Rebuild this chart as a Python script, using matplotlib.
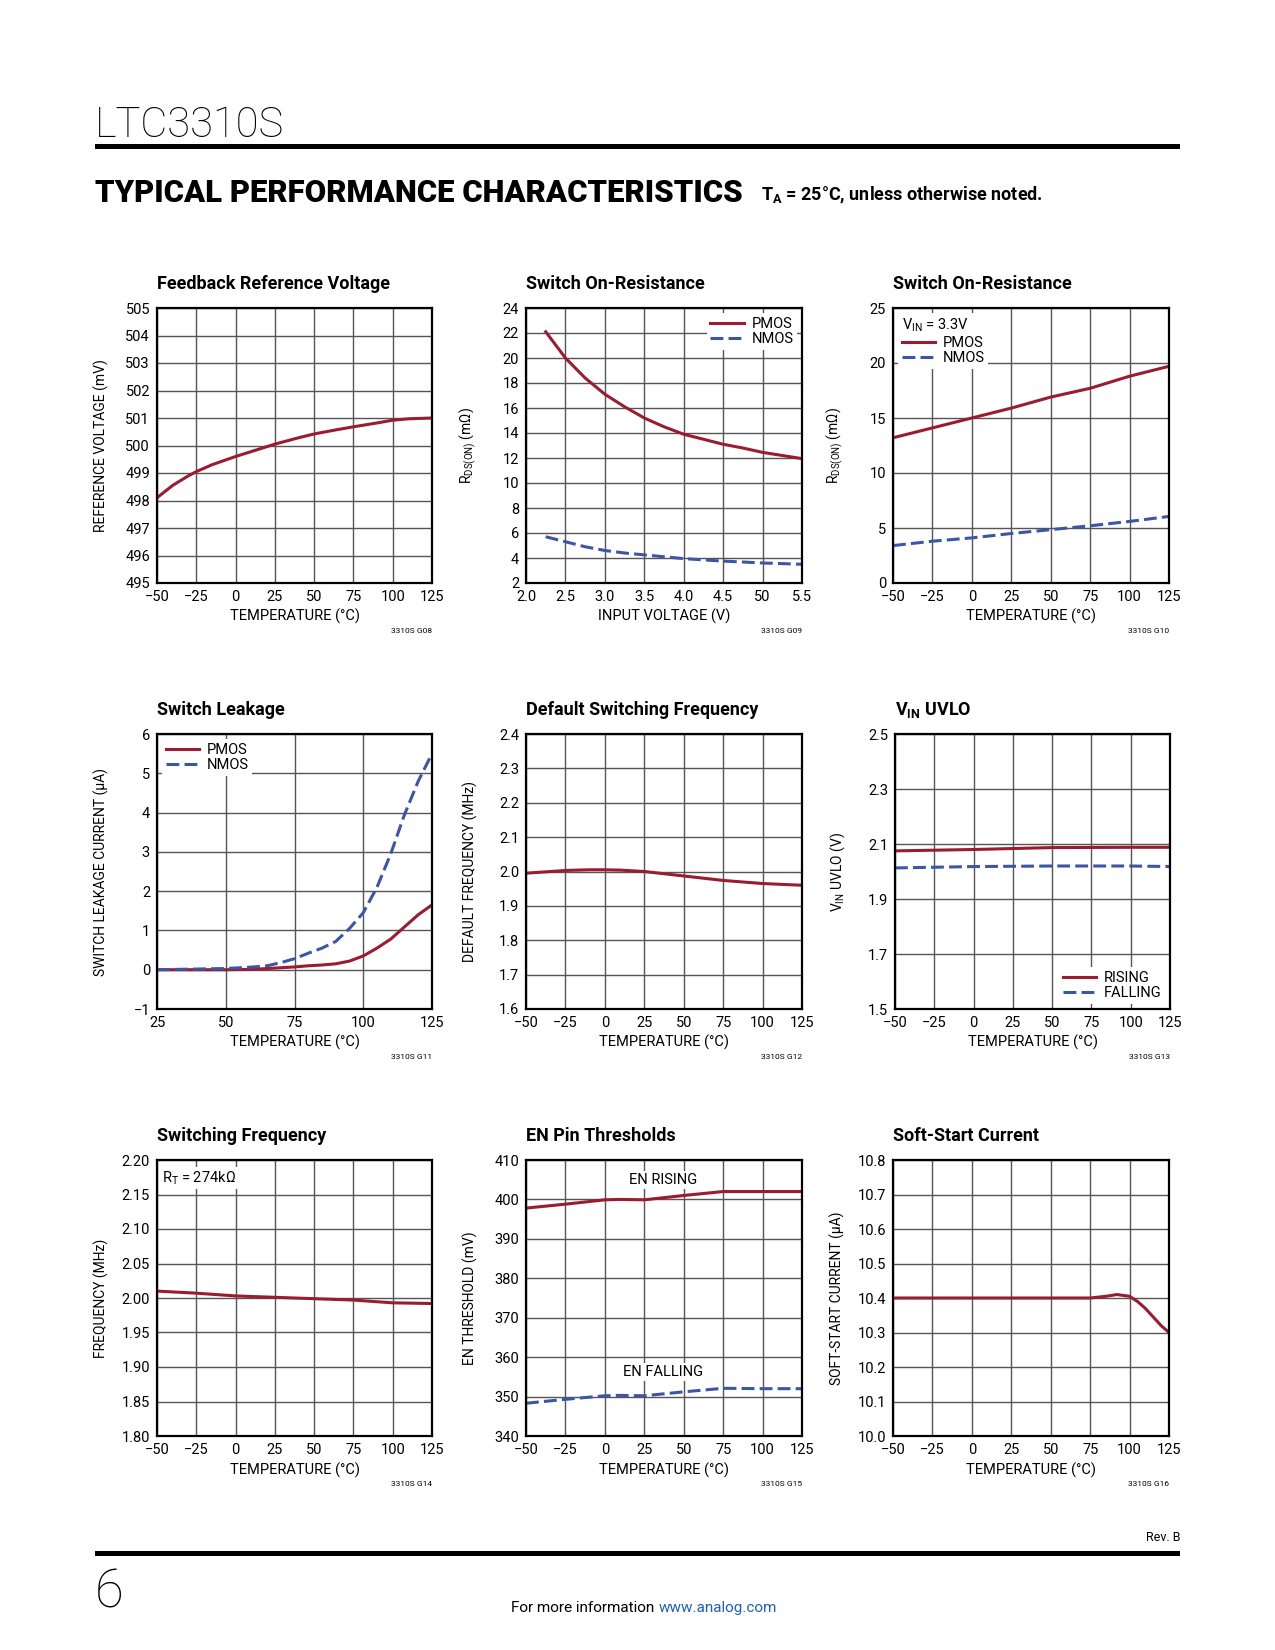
import matplotlib
matplotlib.use('Agg')
import matplotlib.pyplot as plt
from matplotlib.patches import Rectangle

FONT = 'Roboto'
plt.rcParams['font.family'] = [FONT, 'DejaVu Sans']
plt.rcParams['mathtext.fontset'] = 'custom'
plt.rcParams['mathtext.rm'] = FONT
plt.rcParams['mathtext.it'] = FONT
plt.rcParams['mathtext.bf'] = FONT + ':bold'

W, H = 1275, 1650
RED = '#9b1b30'
BLUE = '#3b56a6'
GRID = '#555555'

# ---- data ----
temp_ticks = [-50, -25, 0, 25, 50, 75, 100, 125]

# Feedback Reference Voltage
fb_temp = [-50, -40, -30, -25, -15, 0, 10, 25, 40, 50, 65, 75, 90, 100, 110, 125]
fb_volt = [498.1, 498.55, 498.9, 499.05, 499.3, 499.6, 499.78, 500.05, 500.28, 500.42, 500.58, 500.68, 500.82, 500.92, 500.97, 501.0]

# Switch On-Resistance vs input voltage
ron_vin = [2.25, 2.5, 2.75, 3.0, 3.25, 3.5, 3.75, 4.0, 4.25, 4.5, 4.75, 5.0, 5.25, 5.5]
ron_pmos_v = [22.1, 20.0, 18.4, 17.1, 16.1, 15.2, 14.5, 13.9, 13.5, 13.1, 12.8, 12.45, 12.2, 11.95]
ron_nmos_v = [5.7, 5.3, 4.9, 4.6, 4.4, 4.25, 4.1, 3.95, 3.85, 3.75, 3.68, 3.6, 3.55, 3.5]
vin_tick_labels = ['2.0', '2.5', '3.0', '3.5', '4.0', '4.5', '50', '5.5']

# Switch On-Resistance vs temperature
ron_pmos_t = [13.2, 14.1, 15.0, 15.9, 16.9, 17.7, 18.8, 19.7]
ron_nmos_t = [3.4, 3.8, 4.1, 4.5, 4.85, 5.2, 5.6, 6.05]

# Switch Leakage
leak_temp = [25, 50, 60, 65, 70, 75, 80, 85, 90, 95, 100, 105, 110, 115, 120, 125]
leak_pmos = [0.0, 0.0, 0.01, 0.03, 0.05, 0.07, 0.1, 0.12, 0.15, 0.22, 0.35, 0.55, 0.78, 1.09, 1.4, 1.65]
leak_nmos = [0.0, 0.03, 0.07, 0.1, 0.18, 0.28, 0.42, 0.55, 0.72, 1.05, 1.45, 2.1, 2.95, 3.95, 4.8, 5.5]

# Default Switching Frequency
dsf_temp = [-50, -25, -10, 0, 10, 25, 50, 75, 100, 125]
dsf_freq = [1.995, 2.003, 2.005, 2.005, 2.004, 2.0, 1.987, 1.974, 1.965, 1.96]

# VIN UVLO
uvlo_temp = [-50, 0, 50, 100, 125]
uvlo_rising = [2.075, 2.08, 2.087, 2.088, 2.088]
uvlo_falling = [2.013, 2.018, 2.02, 2.02, 2.018]

# Switching Frequency
sf_freq = [2.010, 2.007, 2.003, 2.001, 1.999, 1.997, 1.993, 1.992]

# EN Pin Thresholds
en_temp = [-50, -25, 0, 10, 25, 50, 75, 100, 125]
en_rising = [397.8, 398.8, 399.9, 400.0, 399.9, 401.0, 402.0, 402.0, 402.0]
en_falling = [348.3, 349.3, 350.2, 350.3, 350.2, 351.2, 352.1, 352.0, 352.0]

# Soft-Start Current
ss_temp = [-50, 0, 50, 75, 85, 92, 100, 105, 110, 115, 120, 125]
ss_curr = [10.4, 10.4, 10.4, 10.4, 10.405, 10.41, 10.405, 10.39, 10.37, 10.345, 10.32, 10.3]


fig = plt.figure(figsize=(W / 100, H / 100), dpi=100)


def make_ax(left, top, right, bottom):
    return fig.add_axes([left / W, 1 - bottom / H, (right - left) / W, (bottom - top) / H])


def style(ax, title, xlabel, ylabel, xlim, xticks, ylim, yticks, code,
          xticklabels=None, yticklabels=None):
    ax.set_xlim(xlim)
    ax.set_ylim(ylim)
    ax.set_xticks(xticks)
    ax.set_yticks(yticks)
    if xticklabels is not None:
        ax.set_xticklabels(xticklabels)
    if yticklabels is not None:
        ax.set_yticklabels(yticklabels)
    ax.grid(True, color=GRID, lw=1.0)
    ax.set_axisbelow(True)
    ax.tick_params(length=0, labelsize=10.5, pad=5)
    for s in ax.spines.values():
        s.set_linewidth(1.6)
        s.set_color('black')
    ax.text(0, 1 + 19 / 275, title, transform=ax.transAxes, ha='left', va='baseline',
            fontsize=13, fontweight='bold')
    ax.set_xlabel(xlabel, fontsize=10.5)
    ax.xaxis.set_label_coords(0.5, -0.095)
    ax.set_ylabel(ylabel, fontsize=10)
    ax.yaxis.set_label_coords(-0.175, 0.5)
    ax.text(1.0, -0.175, code, transform=ax.transAxes, ha='right', va='center', fontsize=6)


def legend(ax, loc, **kw):
    leg = ax.legend(loc=loc, fontsize=10.5, frameon=True, facecolor='white', edgecolor='none',
                    framealpha=1, fancybox=False, handlelength=2.3, borderpad=0.25,
                    labelspacing=0.1, handletextpad=0.5, borderaxespad=0.35, **kw)
    return leg


LW = 2.2
DASH = (4.2, 1.7)
TEMP_LABEL = 'TEMPERATURE (°C)'

# ---- row 1 ----
ax = make_ax(157, 308, 432, 583)
ax.plot(fb_temp, fb_volt, color=RED, lw=LW)
style(ax, 'Feedback Reference Voltage', TEMP_LABEL, 'REFERENCE VOLTAGE (mV)',
      (-50, 125), temp_ticks, (495, 505), range(495, 506), '3310S G08')

ax = make_ax(526, 308, 802, 583)
ax.plot(ron_vin, ron_pmos_v, color=RED, lw=LW, label='PMOS')
ax.plot(ron_vin, ron_nmos_v, color=BLUE, lw=LW, dashes=DASH, label='NMOS')
style(ax, 'Switch On-Resistance', 'INPUT VOLTAGE (V)', r'R$_{\mathrm{DS(ON)}}$ (mΩ)',
      (2.0, 5.5), [2.0, 2.5, 3.0, 3.5, 4.0, 4.5, 5.0, 5.5], (2, 24), range(2, 25, 2), '3310S G09',
      xticklabels=vin_tick_labels)
legend(ax, 'upper right')

ax = make_ax(893, 308, 1169, 583)
ax.plot(temp_ticks, ron_pmos_t, color=RED, lw=LW, label='PMOS')
ax.plot(temp_ticks, ron_nmos_t, color=BLUE, lw=LW, dashes=DASH, label='NMOS')
style(ax, 'Switch On-Resistance', TEMP_LABEL, r'R$_{\mathrm{DS(ON)}}$ (mΩ)',
      (-50, 125), temp_ticks, (0, 25), range(0, 26, 5), '3310S G10')
leg = legend(ax, 'upper left', title=r'V$_{\mathrm{IN}}$ = 3.3V', alignment='left')
leg.get_title().set_fontsize(10.5)

# ---- row 2 ----
ax = make_ax(157, 734, 432, 1009)
ax.plot(leak_temp, leak_pmos, color=RED, lw=LW, label='PMOS')
ax.plot(leak_temp, leak_nmos, color=BLUE, lw=LW, dashes=DASH, label='NMOS')
style(ax, 'Switch Leakage', TEMP_LABEL, 'SWITCH LEAKAGE CURRENT (µA)',
      (25, 125), [25, 50, 75, 100, 125], (-1, 6), range(-1, 7), '3310S G11')
legend(ax, 'upper left')

ax = make_ax(526, 734, 802, 1009)
ax.plot(dsf_temp, dsf_freq, color=RED, lw=LW)
style(ax, 'Default Switching Frequency', TEMP_LABEL, 'DEFAULT FREQUENCY (MHz)',
      (-50, 125), temp_ticks, (1.6, 2.4), [1.6 + 0.1 * i for i in range(9)], '3310S G12',
      yticklabels=['1.6', '1.7', '1.8', '1.9', '2.0', '2.1', '2.2', '2.3', '2.4'])

ax = make_ax(895, 734, 1170, 1009)
ax.plot(uvlo_temp, uvlo_rising, color=RED, lw=LW, label='RISING')
ax.plot(uvlo_temp, uvlo_falling, color=BLUE, lw=LW, dashes=DASH, label='FALLING')
style(ax, r'V$_{\mathbf{IN}}$ UVLO', TEMP_LABEL, r'V$_{\mathrm{IN}}$ UVLO (V)',
      (-50, 125), temp_ticks, (1.5, 2.5), [1.5, 1.7, 1.9, 2.1, 2.3, 2.5], '3310S G13',
      yticklabels=['1.5', '1.7', '1.9', '2.1', '2.3', '2.5'])
legend(ax, 'lower right')

# ---- row 3 ----
ax = make_ax(157, 1160, 432, 1436)
ax.plot(temp_ticks, sf_freq, color=RED, lw=LW)
style(ax, 'Switching Frequency', TEMP_LABEL, 'FREQUENCY (MHz)',
      (-50, 125), temp_ticks, (1.80, 2.20), [1.80 + 0.05 * i for i in range(9)], '3310S G14',
      yticklabels=['1.80', '1.85', '1.90', '1.95', '2.00', '2.05', '2.10', '2.15', '2.20'])
ax.text(0.02, 0.935, r'R$_{\mathrm{T}}$ = 274kΩ', transform=ax.transAxes, fontsize=10.5,
        ha='left', va='center', bbox=dict(facecolor='white', edgecolor='none', pad=1.5))

ax = make_ax(526, 1160, 802, 1436)
ax.plot(en_temp, en_rising, color=RED, lw=LW)
ax.plot(en_temp, en_falling, color=BLUE, lw=LW, dashes=DASH)
style(ax, 'EN Pin Thresholds', TEMP_LABEL, 'EN THRESHOLD (mV)',
      (-50, 125), temp_ticks, (340, 410), range(340, 411, 10), '3310S G15')
ax.text(37, 405, 'EN RISING', fontsize=10.5, ha='center', va='center',
        bbox=dict(facecolor='white', edgecolor='none', pad=1.5))
ax.text(37, 356.3, 'EN FALLING', fontsize=10.5, ha='center', va='center',
        bbox=dict(facecolor='white', edgecolor='none', pad=1.5))

ax = make_ax(893, 1160, 1169, 1436)
ax.plot(ss_temp, ss_curr, color=RED, lw=LW)
style(ax, 'Soft-Start Current', TEMP_LABEL, 'SOFT-START CURRENT (µA)',
      (-50, 125), temp_ticks, (10.0, 10.8), [10.0 + 0.1 * i for i in range(9)], '3310S G16',
      yticklabels=['10.0', '10.1', '10.2', '10.3', '10.4', '10.5', '10.6', '10.7', '10.8'])

# ---- page header / footer ----
renderer = fig.canvas.get_renderer()

fig.text(95 / W, 1 - 137 / H, 'LTC3310S', fontsize=30, fontweight='light', ha='left', va='baseline')
fig.patches.append(Rectangle((95 / W, 1 - 149 / H), (1180 - 95) / W, 5.5 / H,
                             transform=fig.transFigure, color='black', lw=0))

head = fig.text(95 / W, 1 - 202 / H, 'TYPICAL PERFORMANCE CHARACTERISTICS', fontsize=24,
                fontweight='heavy', ha='left', va='baseline')
hw = head.get_window_extent(renderer).width
head.set_fontsize(24 * 649 / hw)
hx = head.get_window_extent(renderer).x1
fig.text((hx + 18) / W, 1 - 200 / H, r'T$_{\mathbf{A}}$ = 25°C, unless otherwise noted.', fontsize=13,
         fontweight='bold', ha='left', va='baseline')

fig.text(1180 / W, 1 - 1541 / H, 'Rev. B', fontsize=9, ha='right', va='baseline')
fig.patches.append(Rectangle((95 / W, 1 - 1556 / H), (1180 - 95) / W, 5.5 / H,
                             transform=fig.transFigure, color='black', lw=0))
fig.text(95 / W, 1 - 1607 / H, '6', fontsize=38, fontweight='light', ha='left', va='baseline')
info = fig.text(511 / W, 1 - 1612 / H, 'For more information', fontsize=11, ha='left', va='baseline')
ix = info.get_window_extent(renderer).x1
fig.text((ix + 4) / W, 1 - 1612 / H, 'www.analog.com', fontsize=11, ha='left', va='baseline',
         color='#1d5fc4')

fig.savefig('out.png', dpi=100, facecolor='white')
